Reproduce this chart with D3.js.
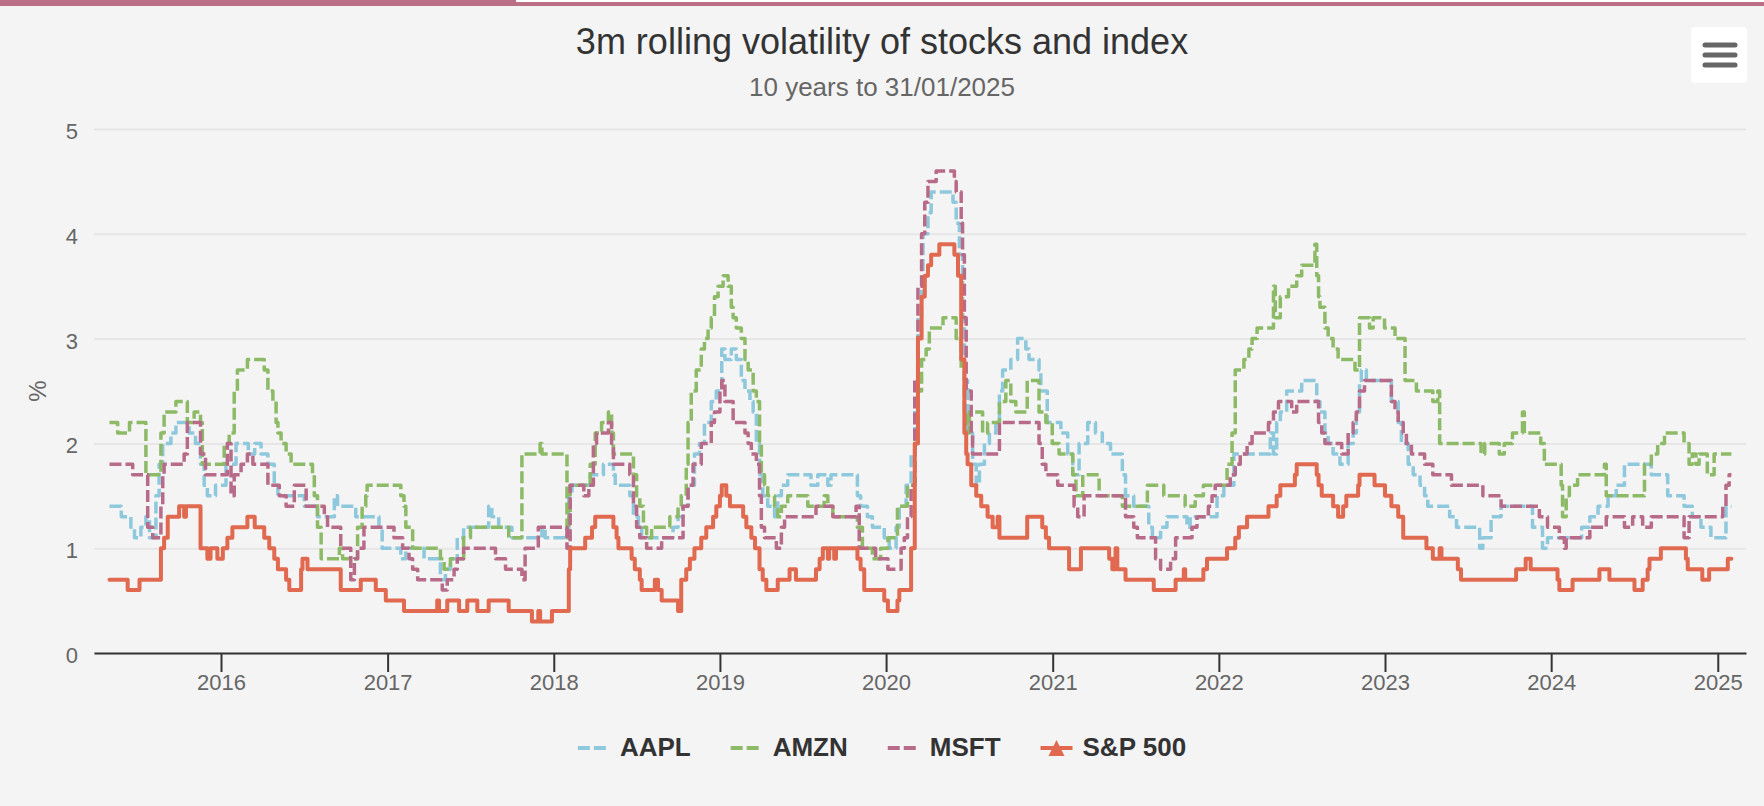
<!DOCTYPE html>
<html><head><meta charset="utf-8">
<script src="https://cdn.jsdelivr.net/npm/d3@7"></script>
<style>
html,body{margin:0;padding:0;background:#f4f4f4;}
svg{display:block;font-family:"Liberation Sans",Arial,Helvetica,sans-serif;}
</style></head><body>
<svg id="chart" width="1764" height="806"></svg>
<script>
// ---------------- data ----------------
const chartTitle = "3m rolling volatility of stocks and index";
const chartSubtitle = "10 years to 31/01/2025";
const yAxisTitle = "%";
const seriesNames = ["AAPL", "AMZN", "MSFT", "S&P 500"];
const yTickValues = [0, 1, 2, 3, 4, 5];
const xTickYears = [2016, 2017, 2018, 2019, 2020, 2021, 2022, 2023, 2024, 2025];
const xDomain = ["2015-03-28", "2025-03-04"];

const aapl = [
["2015-05-01",1.4],["2015-05-27",1.3],["2015-06-17",1.2],["2015-06-25",1.1],["2015-07-09",1.2],["2015-07-20",1.3],
["2015-07-28",1.1],["2015-08-11",1.5],["2015-08-18",1.8],["2015-08-26",2.0],["2015-09-13",2.1],["2015-09-24",2.2],
["2015-10-23",2.1],["2015-11-06",2.0],["2015-11-17",1.8],["2015-11-25",1.6],["2015-12-02",1.5],["2015-12-20",1.6],
["2016-01-12",1.8],["2016-02-03",2.0],["2016-03-01",1.9],["2016-03-15",2.0],["2016-03-29",1.9],["2016-04-13",1.8],
["2016-04-27",1.6],["2016-05-05",1.5],["2016-07-02",1.4],["2016-07-31",1.3],["2016-09-06",1.5],["2016-09-13",1.4],
["2016-10-23",1.3],["2016-12-13",1.2],["2016-12-20",1.0],["2017-01-30",0.9],["2017-02-10",1.0],["2017-03-22",0.9],
["2017-04-27",0.7],["2017-05-08",0.8],["2017-05-19",0.9],["2017-06-03",1.1],["2017-06-17",1.2],["2017-08-11",1.4],
["2017-08-18",1.3],["2017-09-02",1.2],["2017-10-01",1.1],["2017-12-06",1.2],["2017-12-13",1.1],["2018-02-03",1.5],
["2018-02-10",1.6],["2018-03-22",1.7],["2018-04-20",1.8],["2018-05-12",1.7],["2018-05-16",1.6],["2018-06-17",1.5],
["2018-06-25",1.3],["2018-07-06",1.2],["2018-07-13",1.1],["2018-09-20",1.2],["2018-10-01",1.3],["2018-10-12",1.4],
["2018-10-23",1.6],["2018-11-06",1.9],["2018-11-17",2.0],["2018-11-28",2.2],["2018-12-13",2.4],["2018-12-24",2.5],
["2019-01-05",2.9],["2019-01-12",2.8],["2019-01-26",2.9],["2019-02-06",2.8],["2019-02-17",2.6],["2019-02-25",2.5],
["2019-03-08",2.4],["2019-03-15",2.3],["2019-03-22",2.0],["2019-03-29",1.7],["2019-04-05",1.5],["2019-04-16",1.4],
["2019-05-01",1.3],["2019-05-08",1.5],["2019-05-16",1.6],["2019-05-30",1.7],["2019-07-20",1.6],["2019-08-04",1.7],
["2019-08-26",1.6],["2019-09-02",1.7],["2019-10-30",1.5],["2019-11-06",1.4],["2019-11-21",1.3],["2019-12-02",1.2],
["2019-12-28",1.1],["2020-01-08",1.0],["2020-01-23",1.2],["2020-01-30",1.4],["2020-02-14",1.6],["2020-02-25",1.9],
["2020-03-04",2.4],["2020-03-11",3.2],["2020-03-19",3.5],["2020-03-22",4.0],["2020-04-02",4.2],["2020-04-09",4.4],
["2020-05-27",4.3],["2020-06-03",4.1],["2020-06-10",3.8],["2020-06-17",3.2],["2020-06-21",2.6],["2020-06-28",2.1],
["2020-07-09",1.8],["2020-07-17",1.6],["2020-07-24",1.8],["2020-08-04",2.0],["2020-08-15",2.1],["2020-08-29",2.2],
["2020-09-06",2.5],["2020-09-13",2.7],["2020-10-01",2.8],["2020-10-16",3.0],["2020-11-03",2.9],["2020-11-10",2.8],
["2020-12-02",2.7],["2020-12-06",2.5],["2020-12-20",2.2],["2021-01-19",2.1],["2021-02-03",1.9],["2021-02-14",1.7],
["2021-02-28",2.0],["2021-03-19",2.2],["2021-04-05",2.1],["2021-04-20",2.0],["2021-05-08",1.9],["2021-06-03",1.7],
["2021-06-10",1.5],["2021-06-28",1.4],["2021-07-31",1.2],["2021-08-08",1.1],["2021-08-26",1.2],["2021-09-09",1.3],
["2021-10-23",1.2],["2021-10-30",1.3],["2021-12-28",1.5],["2022-01-12",1.6],["2022-02-03",1.9],["2022-04-24",2.1],
["2022-05-01",1.9],["2022-05-08",2.2],["2022-05-16",2.3],["2022-05-30",2.5],["2022-07-02",2.6],["2022-08-04",2.4],
["2022-08-11",2.3],["2022-08-22",2.1],["2022-08-29",2.0],["2022-09-09",1.9],["2022-09-24",1.8],["2022-10-12",2.0],
["2022-10-23",2.1],["2022-10-30",2.3],["2022-11-06",2.6],["2022-11-10",2.7],["2022-11-21",2.6],["2023-01-15",2.4],
["2023-01-30",2.2],["2023-02-06",2.0],["2023-02-21",1.8],["2023-03-04",1.7],["2023-03-19",1.6],["2023-03-29",1.5],
["2023-04-05",1.4],["2023-05-23",1.3],["2023-06-07",1.2],["2023-07-28",1.0],["2023-08-04",1.1],["2023-08-22",1.3],
["2023-09-13",1.4],["2023-11-21",1.2],["2023-12-13",1.0],["2023-12-24",1.1],["2024-03-08",1.2],["2024-03-26",1.3],
["2024-04-13",1.4],["2024-05-05",1.5],["2024-05-23",1.6],["2024-06-10",1.8],["2024-08-08",1.7],["2024-09-13",1.5],
["2024-10-19",1.4],["2024-11-06",1.3],["2024-11-25",1.2],["2024-12-17",1.1],["2025-01-19",1.4],["2025-01-31",1.4]
];

const amzn = [
["2015-05-01",2.2],["2015-05-19",2.1],["2015-06-14",2.2],["2015-07-20",1.7],["2015-08-22",2.1],["2015-08-29",2.3],
["2015-09-24",2.4],["2015-10-19",2.2],["2015-11-03",2.3],["2015-11-17",2.2],["2015-11-21",1.8],["2016-01-08",2.0],
["2016-01-19",2.1],["2016-01-30",2.5],["2016-02-06",2.7],["2016-02-28",2.8],["2016-04-05",2.7],["2016-04-13",2.5],
["2016-04-24",2.4],["2016-05-01",2.2],["2016-05-05",2.1],["2016-05-12",2.0],["2016-05-23",1.9],["2016-06-03",1.8],
["2016-07-20",1.7],["2016-07-24",1.5],["2016-07-31",1.2],["2016-08-08",0.9],["2016-09-17",1.0],["2016-09-24",0.9],
["2016-10-27",1.2],["2016-11-06",1.4],["2016-11-14",1.5],["2016-11-17",1.6],["2017-01-30",1.5],["2017-02-06",1.4],
["2017-02-10",1.2],["2017-02-25",1.0],["2017-04-27",0.9],["2017-05-05",0.8],["2017-05-19",0.9],["2017-06-17",1.1],
["2017-07-02",1.2],["2017-09-24",1.1],["2017-10-23",1.9],["2017-12-02",2.0],["2017-12-06",1.9],["2018-01-30",1.1],
["2018-02-03",1.3],["2018-02-06",1.6],["2018-03-22",1.8],["2018-04-02",2.1],["2018-04-16",2.2],["2018-05-01",2.3],
["2018-05-08",2.1],["2018-05-12",1.9],["2018-06-25",1.7],["2018-07-02",1.5],["2018-07-09",1.4],["2018-07-17",1.2],
["2018-07-24",1.1],["2018-08-04",1.2],["2018-09-13",1.3],["2018-10-01",1.4],["2018-10-08",1.5],["2018-10-19",1.8],
["2018-10-23",2.2],["2018-10-30",2.5],["2018-11-10",2.7],["2018-11-21",2.9],["2018-11-28",3.0],["2018-12-06",3.1],
["2018-12-13",3.2],["2018-12-20",3.4],["2018-12-28",3.5],["2019-01-08",3.6],["2019-01-19",3.5],["2019-01-26",3.3],
["2019-01-30",3.2],["2019-02-06",3.1],["2019-02-17",3.0],["2019-02-25",2.8],["2019-03-04",2.7],["2019-03-15",2.5],
["2019-03-22",2.4],["2019-03-29",2.0],["2019-04-02",1.7],["2019-04-09",1.6],["2019-04-16",1.5],["2019-05-01",1.4],
["2019-05-08",1.3],["2019-05-16",1.4],["2019-05-30",1.5],["2019-07-13",1.4],["2019-08-18",1.5],["2019-08-26",1.4],
["2019-09-06",1.3],["2019-10-30",1.2],["2019-11-10",1.0],["2019-12-02",0.9],["2019-12-20",1.0],["2020-01-05",1.1],
["2020-01-26",1.4],["2020-02-17",1.6],["2020-03-04",2.1],["2020-03-11",2.5],["2020-03-19",2.8],["2020-03-29",2.9],
["2020-04-05",3.1],["2020-05-05",3.2],["2020-06-03",3.0],["2020-06-14",2.7],["2020-06-21",2.3],["2020-06-28",2.1],
["2020-07-02",2.3],["2020-07-31",2.1],["2020-08-11",2.2],["2020-09-06",2.4],["2020-09-20",2.6],["2020-10-01",2.4],
["2020-10-12",2.3],["2020-11-06",2.6],["2020-12-02",2.3],["2020-12-17",2.2],["2020-12-31",2.0],["2021-01-15",1.9],
["2021-02-14",1.7],["2021-02-21",1.5],["2021-03-08",1.7],["2021-04-13",1.5],["2021-06-03",1.4],["2021-07-28",1.6],
["2021-09-02",1.5],["2021-10-19",1.4],["2021-11-10",1.5],["2021-11-28",1.6],["2022-01-19",1.8],["2022-01-30",2.1],
["2022-02-06",2.7],["2022-02-25",2.8],["2022-03-08",2.9],["2022-03-15",3.0],["2022-03-26",3.1],["2022-05-01",3.5],
["2022-05-05",3.2],["2022-05-16",3.4],["2022-06-03",3.5],["2022-06-21",3.6],["2022-07-02",3.7],["2022-07-31",3.9],
["2022-08-04",3.6],["2022-08-08",3.4],["2022-08-11",3.3],["2022-08-22",3.1],["2022-08-29",3.0],["2022-09-09",2.9],
["2022-09-20",2.8],["2022-10-27",2.7],["2022-11-06",3.2],["2022-11-28",3.1],["2022-12-06",3.2],["2022-12-31",3.1],
["2023-01-23",3.0],["2023-02-14",2.6],["2023-03-11",2.5],["2023-04-16",2.4],["2023-04-27",2.5],["2023-05-01",2.0],
["2023-07-31",1.9],["2023-08-08",2.0],["2023-09-09",1.9],["2023-09-20",2.0],["2023-10-08",2.1],["2023-10-30",2.3],
["2023-11-03",2.1],["2023-12-09",2.0],["2023-12-17",1.8],["2024-01-23",1.6],["2024-01-26",1.3],["2024-02-03",1.5],
["2024-02-10",1.6],["2024-02-28",1.7],["2024-04-27",1.8],["2024-05-01",1.5],["2024-07-24",1.8],["2024-08-08",1.9],
["2024-08-22",2.0],["2024-09-06",2.1],["2024-10-19",2.0],["2024-10-30",1.8],["2024-11-06",1.9],["2024-11-14",1.8],
["2024-11-21",1.9],["2024-12-09",1.7],["2024-12-24",1.9],["2025-01-31",1.9]
];

const msft = [
["2015-05-01",1.8],["2015-06-21",1.7],["2015-07-24",1.2],["2015-08-04",1.1],["2015-08-22",1.4],["2015-08-26",1.7],
["2015-08-29",1.8],["2015-10-12",1.9],["2015-10-19",2.2],["2015-11-17",1.9],["2015-11-28",1.7],["2016-01-15",2.0],
["2016-01-23",1.5],["2016-01-30",1.7],["2016-02-14",1.8],["2016-02-28",1.9],["2016-03-11",1.8],["2016-04-13",1.6],
["2016-05-08",1.5],["2016-05-23",1.4],["2016-06-10",1.6],["2016-07-06",1.4],["2016-08-15",1.3],["2016-08-22",1.2],
["2016-09-20",1.0],["2016-10-12",0.7],["2016-10-20",0.9],["2016-10-27",1.0],["2016-11-10",1.2],["2017-01-15",1.1],
["2017-02-03",1.0],["2017-02-17",0.9],["2017-02-25",0.8],["2017-03-08",0.7],["2017-05-01",0.6],["2017-05-12",0.7],
["2017-05-27",0.8],["2017-06-03",0.9],["2017-06-17",1.0],["2017-08-26",0.9],["2017-09-17",0.8],["2017-10-23",0.7],
["2017-10-30",1.0],["2017-11-28",1.2],["2018-01-30",1.0],["2018-02-06",1.6],["2018-03-08",1.5],["2018-03-19",1.6],
["2018-03-29",2.0],["2018-04-05",2.1],["2018-05-01",2.2],["2018-05-08",2.0],["2018-05-12",1.8],["2018-06-17",1.7],
["2018-06-25",1.4],["2018-07-02",1.2],["2018-07-09",1.1],["2018-07-24",1.0],["2018-08-26",1.1],["2018-10-12",1.4],
["2018-10-23",1.6],["2018-11-03",1.8],["2018-11-21",2.0],["2018-12-13",2.2],["2018-12-20",2.3],["2019-01-01",2.5],
["2019-01-05",2.6],["2019-01-12",2.4],["2019-01-30",2.2],["2019-02-25",2.1],["2019-03-04",2.0],["2019-03-11",1.9],
["2019-03-22",1.8],["2019-03-29",1.5],["2019-04-02",1.2],["2019-04-09",1.1],["2019-05-05",1.0],["2019-05-16",1.2],
["2019-05-23",1.3],["2019-07-31",1.4],["2019-09-06",1.3],["2019-10-27",1.4],["2019-11-03",1.0],["2019-12-09",0.9],
["2020-01-05",0.8],["2020-02-03",1.0],["2020-02-10",1.1],["2020-02-17",1.3],["2020-02-25",1.6],["2020-03-04",2.6],
["2020-03-11",3.5],["2020-03-19",4.0],["2020-03-26",4.3],["2020-04-02",4.5],["2020-04-20",4.6],["2020-05-30",4.5],
["2020-06-03",4.4],["2020-06-14",4.1],["2020-06-17",3.8],["2020-06-21",3.2],["2020-06-25",2.5],["2020-07-06",2.1],
["2020-07-09",1.9],["2020-09-06",2.2],["2020-12-02",2.0],["2020-12-09",1.8],["2020-12-17",1.7],["2021-01-12",1.6],
["2021-02-17",1.4],["2021-02-25",1.3],["2021-03-11",1.5],["2021-06-10",1.3],["2021-06-28",1.2],["2021-07-06",1.1],
["2021-08-15",0.9],["2021-08-26",0.8],["2021-09-17",0.9],["2021-09-28",1.1],["2021-11-03",1.2],["2021-11-14",1.3],
["2021-12-09",1.4],["2021-12-17",1.5],["2021-12-24",1.6],["2022-01-26",1.7],["2022-02-06",1.8],["2022-02-17",1.9],
["2022-03-04",2.0],["2022-03-15",2.1],["2022-04-20",2.2],["2022-05-01",2.3],["2022-05-12",2.4],["2022-06-10",2.3],
["2022-06-21",2.4],["2022-08-08",2.2],["2022-08-15",2.1],["2022-08-22",2.0],["2022-09-28",1.9],["2022-10-12",2.1],
["2022-10-23",2.2],["2022-10-30",2.3],["2022-11-06",2.5],["2022-11-17",2.6],["2023-01-15",2.4],["2023-01-23",2.3],
["2023-01-30",2.2],["2023-02-10",2.1],["2023-02-17",2.0],["2023-02-28",1.9],["2023-03-29",1.8],["2023-04-16",1.7],
["2023-05-27",1.6],["2023-08-04",1.5],["2023-09-13",1.4],["2023-12-06",1.3],["2023-12-24",1.2],["2024-01-19",1.1],
["2024-01-30",1.0],["2024-02-03",1.1],["2024-03-26",1.2],["2024-05-01",1.3],["2024-06-10",1.2],["2024-06-28",1.3],
["2024-07-20",1.2],["2024-08-08",1.3],["2024-10-19",1.1],["2024-10-30",1.3],["2025-01-12",1.4],["2025-01-19",1.6],
["2025-01-26",1.7],["2025-01-31",1.7]
];

const sp500 = [
["2015-05-01",0.7],["2015-06-10",0.6],["2015-07-06",0.7],["2015-08-22",1.0],["2015-08-29",1.1],["2015-09-06",1.3],
["2015-10-01",1.4],["2015-10-12",1.3],["2015-10-16",1.4],["2015-11-17",1.0],["2015-12-02",0.9],["2015-12-09",1.0],
["2015-12-24",0.9],["2016-01-05",1.0],["2016-01-15",1.1],["2016-01-26",1.2],["2016-02-28",1.3],["2016-03-15",1.2],
["2016-04-05",1.1],["2016-04-16",1.0],["2016-04-27",0.9],["2016-05-05",0.8],["2016-05-23",0.7],["2016-05-30",0.6],
["2016-06-25",0.8],["2016-06-28",0.9],["2016-07-09",0.8],["2016-09-20",0.6],["2016-11-03",0.7],["2016-12-06",0.6],
["2016-12-28",0.5],["2017-02-06",0.4],["2017-04-20",0.5],["2017-04-24",0.4],["2017-05-12",0.5],["2017-06-07",0.4],
["2017-06-25",0.5],["2017-07-17",0.4],["2017-08-11",0.5],["2017-09-24",0.4],["2017-11-14",0.3],["2017-11-28",0.4],
["2017-12-02",0.3],["2017-12-28",0.4],["2018-02-03",0.8],["2018-02-06",1.0],["2018-03-11",1.1],["2018-03-26",1.2],
["2018-04-02",1.3],["2018-05-12",1.2],["2018-05-19",1.1],["2018-05-23",1.0],["2018-06-21",0.9],["2018-06-28",0.8],
["2018-07-09",0.7],["2018-07-13",0.6],["2018-08-11",0.7],["2018-08-18",0.6],["2018-08-26",0.5],["2018-10-01",0.4],
["2018-10-08",0.7],["2018-10-19",0.8],["2018-10-27",0.9],["2018-11-06",1.0],["2018-11-21",1.1],["2018-12-02",1.2],
["2018-12-17",1.3],["2018-12-24",1.4],["2019-01-01",1.5],["2019-01-05",1.6],["2019-01-15",1.5],["2019-01-23",1.4],
["2019-02-21",1.3],["2019-02-28",1.2],["2019-03-11",1.1],["2019-03-19",1.0],["2019-03-29",0.8],["2019-04-05",0.7],
["2019-04-13",0.6],["2019-05-08",0.7],["2019-06-03",0.8],["2019-06-17",0.7],["2019-07-31",0.8],["2019-08-08",0.9],
["2019-08-15",1.0],["2019-08-26",0.9],["2019-08-29",1.0],["2019-09-09",0.9],["2019-09-13",1.0],["2019-10-30",0.9],
["2019-11-06",0.8],["2019-11-14",0.6],["2019-12-28",0.5],["2020-01-05",0.4],["2020-01-26",0.5],["2020-01-30",0.6],
["2020-02-25",1.0],["2020-03-04",2.0],["2020-03-11",3.0],["2020-03-19",3.4],["2020-03-26",3.6],["2020-04-02",3.7],
["2020-04-09",3.8],["2020-04-27",3.9],["2020-05-30",3.8],["2020-06-07",3.6],["2020-06-14",2.8],["2020-06-21",2.1],
["2020-06-25",1.9],["2020-06-28",1.8],["2020-07-06",1.6],["2020-07-17",1.5],["2020-07-28",1.4],["2020-08-11",1.3],
["2020-08-22",1.2],["2020-09-02",1.3],["2020-09-06",1.1],["2020-11-06",1.3],["2020-12-09",1.2],["2020-12-17",1.1],
["2020-12-24",1.0],["2021-02-06",0.8],["2021-03-04",1.0],["2021-05-05",0.9],["2021-05-12",0.8],["2021-05-19",1.0],
["2021-05-23",0.8],["2021-06-10",0.7],["2021-08-11",0.6],["2021-09-28",0.7],["2021-10-16",0.8],["2021-10-19",0.7],
["2021-11-28",0.8],["2021-12-06",0.9],["2022-01-19",1.0],["2022-02-06",1.1],["2022-02-14",1.2],["2022-03-04",1.3],
["2022-04-20",1.4],["2022-05-08",1.5],["2022-05-16",1.6],["2022-06-17",1.7],["2022-06-21",1.8],["2022-08-04",1.7],
["2022-08-08",1.6],["2022-08-15",1.5],["2022-09-09",1.4],["2022-09-20",1.3],["2022-10-01",1.4],["2022-10-08",1.5],
["2022-11-03",1.6],["2022-11-06",1.7],["2022-12-09",1.6],["2023-01-01",1.5],["2023-01-15",1.4],["2023-01-30",1.3],
["2023-02-10",1.1],["2023-04-02",1.0],["2023-04-16",0.9],["2023-05-01",1.0],["2023-05-05",0.9],["2023-06-10",0.8],
["2023-06-17",0.7],["2023-10-16",0.8],["2023-11-06",0.9],["2023-11-17",0.8],["2024-01-15",0.7],["2024-01-19",0.6],
["2024-02-17",0.7],["2024-04-16",0.8],["2024-05-08",0.7],["2024-07-02",0.6],["2024-07-20",0.7],["2024-07-31",0.8],
["2024-08-04",0.9],["2024-08-29",1.0],["2024-10-23",0.9],["2024-10-27",0.8],["2024-11-28",0.7],["2024-12-13",0.8],
["2025-01-23",0.9],["2025-01-31",0.9]
];

const seriesData = [aapl, amzn, msft, sp500];

// ---------------- styles ----------------
const style = {
  colors: ["#8ec8dd", "#8cba66", "#b86a89", "#e0694f"],
  dashed: [true, true, true, false],
  bg: "#f4f4f4",
  plot: { left: 94, right: 1746, top: 129, bottom: 653 }
};

// ---------------- drawing ----------------
const W = 1764, H = 806;
const svg = d3.select("#chart");
const parse = d3.timeParse("%Y-%m-%d");
const P = style.plot;

svg.append("rect").attr("width", W).attr("height", H).attr("fill", style.bg);

// top bar
svg.append("rect").attr("x", 0).attr("y", 0).attr("width", W).attr("height", 2).attr("fill", "#ffffff");
svg.append("rect").attr("x", 0).attr("y", 0).attr("width", 516).attr("height", 6).attr("fill", "#ba6f87");
svg.append("rect").attr("x", 516).attr("y", 2).attr("width", W - 516).attr("height", 4).attr("fill", "#ba6f87");

// title & subtitle
svg.append("text").attr("x", W / 2).attr("y", 54).attr("text-anchor", "middle")
  .attr("font-size", 36).attr("fill", "#333333").text(chartTitle);
svg.append("text").attr("x", W / 2).attr("y", 96).attr("text-anchor", "middle")
  .attr("font-size", 26).attr("fill", "#666666").text(chartSubtitle);

// menu button
const menu = svg.append("g");
menu.append("rect").attr("x", 1691).attr("y", 27).attr("width", 56).attr("height", 56).attr("rx", 4).attr("fill", "#ffffff");
[45, 55, 65].forEach(yy => {
  menu.append("line").attr("x1", 1705).attr("x2", 1735).attr("y1", yy).attr("y2", yy)
    .attr("stroke", "#666666").attr("stroke-width", 5).attr("stroke-linecap", "round");
});

// scales
const x = d3.scaleTime().domain(xDomain.map(parse)).range([P.left, P.right]);
const y = d3.scaleLinear().domain([0, 5]).range([P.bottom, P.top]);

// y axis with gridlines
const yAxis = svg.append("g").attr("transform", `translate(${P.left},0)`)
  .call(d3.axisLeft(y).tickValues(yTickValues).tickSize(-(P.right - P.left)).tickPadding(16).tickFormat(d3.format("d")));
yAxis.select(".domain").remove();
yAxis.selectAll(".tick line").attr("stroke", "#e6e6e6").attr("stroke-width", 2);
yAxis.selectAll(".tick text").attr("fill", "#666666").attr("font-size", 22)
  .attr("font-family", "'Liberation Sans',Arial,Helvetica,sans-serif").attr("dy", "0.43em");

// y axis title
svg.append("text").attr("transform", `translate(37,${(P.top + P.bottom) / 2}) rotate(-90)`)
  .attr("text-anchor", "middle").attr("dominant-baseline", "central")
  .attr("font-size", 24).attr("fill", "#666666").text(yAxisTitle);

// series lines
const line = d3.line()
  .x(d => x(parse(d[0])))
  .y(d => y(d[1]))
  .curve(d3.curveStepAfter);

seriesData.forEach((data, i) => {
  svg.append("path").datum(data)
    .attr("d", line)
    .attr("fill", "none")
    .attr("stroke", style.colors[i])
    .attr("stroke-width", style.dashed[i] ? 3.5 : 4)
    .attr("stroke-dasharray", style.dashed[i] ? "12,4" : null)
    .attr("stroke-linejoin", "round")
    .attr("stroke-linecap", style.dashed[i] ? "butt" : "round");
});

// x axis
const xAxis = svg.append("g").attr("transform", `translate(0,${P.bottom})`)
  .call(d3.axisBottom(x).tickValues(xTickYears.map(yr => new Date(yr, 0, 1)))
    .tickSize(19).tickSizeOuter(0).tickPadding(2).tickFormat(d3.timeFormat("%Y")));
xAxis.select(".domain").attr("stroke", "#333333").attr("stroke-width", 2);
xAxis.selectAll(".tick line").attr("stroke", "#333333").attr("stroke-width", 2);
xAxis.selectAll(".tick text").attr("fill", "#666666").attr("font-size", 22)
  .attr("font-family", "'Liberation Sans',Arial,Helvetica,sans-serif");

// legend
const legend = svg.append("g");
const symW = 32, symPad = 10, itemGap = 40, legendY = 748;
const items = seriesNames.map((name, i) => {
  const g = legend.append("g");
  const t = g.append("text").attr("x", symW + symPad).attr("y", 8)
    .attr("font-size", 26).attr("font-weight", "bold").attr("fill", "#333333").text(name);
  const tw = t.node().getComputedTextLength();
  g.append("line").attr("x1", 0).attr("x2", symW).attr("y1", 0).attr("y2", 0)
    .attr("stroke", style.colors[i]).attr("stroke-width", 4)
    .attr("stroke-dasharray", style.dashed[i] ? "12,4" : null);
  if (!style.dashed[i]) {
    g.append("path").attr("d", `M${symW / 2},-8 L${symW / 2 + 8},8 L${symW / 2 - 8},8 Z`)
      .attr("fill", style.colors[i]);
  }
  return { g, w: symW + symPad + tw };
});
const totalW = d3.sum(items, d => d.w) + itemGap * (items.length - 1);
let lx = W / 2 - totalW / 2;
items.forEach(it => {
  it.g.attr("transform", `translate(${lx},${legendY})`);
  lx += it.w + itemGap;
});
</script>
</body></html>
